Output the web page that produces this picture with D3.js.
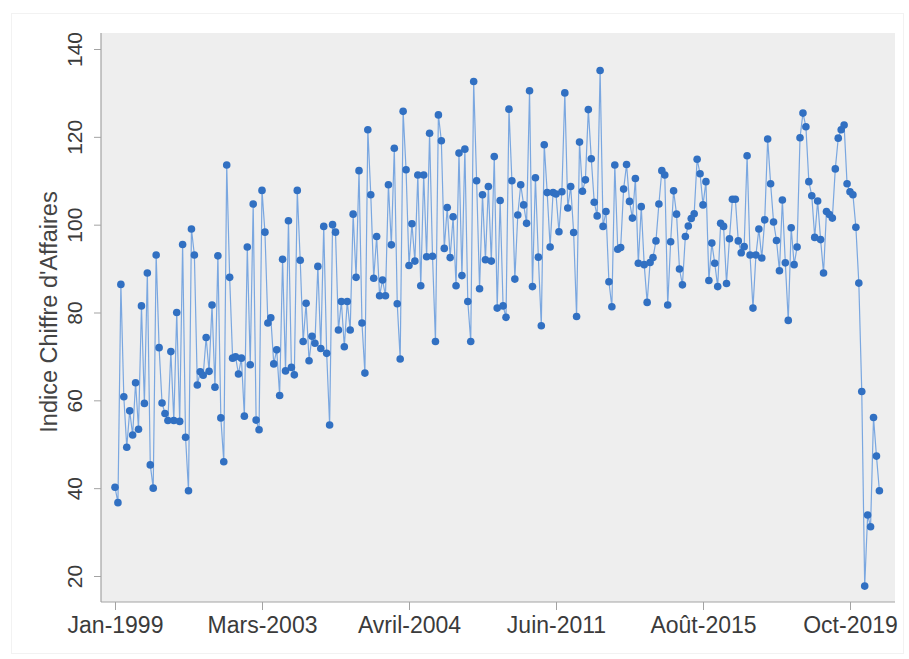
<!DOCTYPE html>
<html>
<head>
<meta charset="utf-8">
<script src="https://cdn.jsdelivr.net/npm/d3@7"></script>
<style>
  body { margin: 0; background: #fff; }
  text { font-family: "Liberation Sans", Arial, Helvetica, sans-serif; fill: #3b3b3b; }
</style>
</head>
<body>
<div id="chart"></div>
<script>
const values = [
  40.2, 36.7, 86.4, 60.8, 49.3, 57.6, 52.1, 64, 53.4, 81.5,
  59.3, 89, 45.3, 40, 93.1, 72, 59.4, 57, 55.4, 71.1,
  55.4, 80, 55.2, 95.5, 51.6, 39.4, 99, 93.1, 63.5, 66.5,
  65.7, 74.3, 66.6, 81.7, 63, 92.9, 56, 46, 113.6, 88,
  69.6, 69.9, 66, 69.6, 56.4, 94.9, 68.1, 104.7, 55.5, 53.3,
  107.8, 98.3, 77.6, 78.8, 68.3, 71.5, 61.1, 92.1, 66.7, 100.9,
  67.5, 65.8, 107.8, 91.9, 73.4, 82.1, 69, 74.6, 73, 90.5,
  71.8, 99.6, 70.7, 54.4, 100, 98.3, 76, 82.5, 72.2, 82.5,
  76, 102.4, 88, 112.3, 77.6, 66.2, 121.6, 106.8, 87.8, 97.3,
  83.8, 87.4, 83.8, 109.1, 95.4, 117.4, 82, 69.4, 125.8, 112.5,
  90.7, 100.2, 91.7, 111.3, 86.1, 111.3, 92.7, 120.8, 92.8, 73.4,
  125, 119.1, 94.6, 103.9, 92.5, 101.8, 86.1, 116.3, 88.4, 117.2,
  82.5, 73.4, 132.6, 110, 85.4, 106.8, 92, 108.7, 91.7, 115.5,
  81, 105.5, 81.5, 78.9, 126.3, 110, 87.6, 102.2, 109.1, 104.5,
  100.3, 130.5, 85.9, 110.7, 92.6, 77, 118.2, 107.3, 94.9, 107.3,
  107, 98.4, 107.5, 130, 103.8, 108.7, 98.2, 79.1, 118.8, 107.6,
  110.2, 126.2, 115, 105.1, 102, 135.1, 99.6, 103, 87, 81.3,
  113.6, 94.4, 94.8, 108.1, 113.7, 105.3, 101.5, 110.5, 91.2, 104.1,
  90.9, 82.3, 91.4, 92.5, 96.3, 104.7, 112.3, 111.3, 81.7, 96.1,
  107.7, 102.4, 89.9, 86.3, 97.3, 99.7, 101.4, 102.5, 114.9, 111.6,
  104.5, 109.8, 87.3, 95.8, 91.2, 85.9, 100.3, 99.6, 86.6, 96.8,
  105.8, 105.8, 96.3, 93.6, 95, 115.7, 93.1, 81, 93.1, 99,
  92.4, 101.1, 119.5, 109.3, 100.6, 96.4, 89.5, 105.6, 91.3, 78.2,
  99.3, 90.9, 94.9, 119.8, 125.4, 122.3, 109.8, 106.6, 97.1, 105.4,
  96.6, 89, 103, 102.3, 101.5, 112.7, 119.7, 121.6, 122.7, 109.3,
  107.5, 106.8, 99.4, 86.7, 62, 17.7, 33.9, 31.2, 56.1, 47.3,
  39.4
];

// x axis: one label every 50 observations
const xTickIndex = [0, 50, 100, 150, 200, 250];
const xTickLabels = ["Jan-1999", "Mars-2003", "Avril-2004", "Juin-2011", "Août-2015", "Oct-2019"];
const yTicks = [20, 40, 60, 80, 100, 120, 140];
const yTitle = "Indice Chiffre d'Affaires";

const width = 909;
const height = 659;
const plot = { left: 101, right: 895, top: 33, bottom: 602 };

const x = d3.scaleLinear()
  .domain([0, 250])
  .range([115, 850]);
const y = d3.scaleLinear()
  .domain([20, 140])
  .range([576, 49]);

const svg = d3.select("#chart")
  .append("svg")
  .attr("width", width)
  .attr("height", height);

// faint outer frame of the figure
svg.append("rect")
  .attr("x", 11.5)
  .attr("y", 13.5)
  .attr("width", 892)
  .attr("height", 640)
  .attr("fill", "#fff")
  .attr("stroke", "#f2f2f2");

// plot region
svg.append("rect")
  .attr("x", plot.left)
  .attr("y", plot.top)
  .attr("width", plot.right - plot.left)
  .attr("height", plot.bottom - plot.top)
  .attr("fill", "#eeeeee");

const axisColor = "#a3a3a3";

svg.append("g")
  .attr("transform", `translate(${plot.left},0)`)
  .call(d3.axisLeft(y).tickValues(yTicks).tickSize(7).tickFormat(d3.format("d")))
  .call((g) => g.select(".domain").remove())
  .call((g) => g.selectAll(".tick line").attr("stroke", axisColor))
  .call((g) =>
    g.selectAll(".tick text")
      .attr("transform", "rotate(-90)")
      .attr("x", 0)
      .attr("y", -19)
      .attr("dy", 0)
      .attr("text-anchor", "middle")
      .style("font-size", "21px")
  );

svg.append("g")
  .attr("transform", `translate(0,${plot.bottom})`)
  .call(
    d3.axisBottom(x)
      .tickValues(xTickIndex)
      .tickSize(8)
      .tickFormat((d, i) => xTickLabels[i])
  )
  .call((g) => g.select(".domain").remove())
  .call((g) => g.selectAll(".tick line").attr("stroke", axisColor))
  .call((g) =>
    g.selectAll(".tick text")
      .attr("y", 31)
      .attr("dy", 0)
      .style("font-size", "23px")
  );

// axis lines along the plot region edges
svg.append("line")
  .attr("x1", plot.left).attr("x2", plot.left)
  .attr("y1", plot.top).attr("y2", plot.bottom)
  .attr("stroke", axisColor).attr("stroke-width", 1.2);
svg.append("line")
  .attr("x1", plot.left).attr("x2", plot.right)
  .attr("y1", plot.bottom).attr("y2", plot.bottom)
  .attr("stroke", axisColor).attr("stroke-width", 1.2);

svg.append("text")
  .attr("transform", `translate(57,312) rotate(-90)`)
  .attr("text-anchor", "middle")
  .style("font-size", "23.5px")
  .style("fill", "#444")
  .text(yTitle);

const line = d3.line()
  .x((d, i) => x(i))
  .y((d) => y(d));

svg.append("path")
  .datum(values)
  .attr("fill", "none")
  .attr("stroke", "#7aa7e0")
  .attr("stroke-width", 1.2)
  .attr("d", line);

svg.append("g")
  .selectAll("circle")
  .data(values)
  .join("circle")
  .attr("cx", (d, i) => x(i))
  .attr("cy", (d) => y(d))
  .attr("r", 3.8)
  .attr("fill", "#3170c2");
</script>
</body>
</html>
